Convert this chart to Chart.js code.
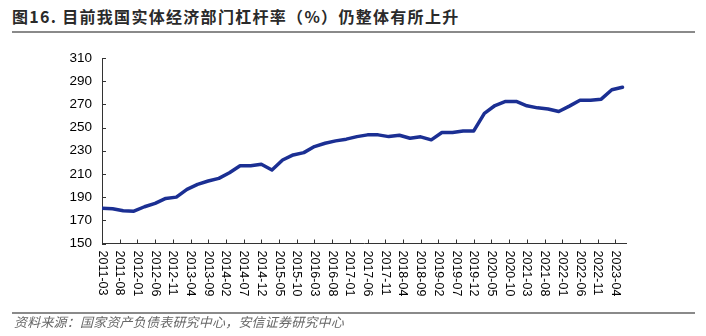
<!DOCTYPE html>
<html>
<head>
<meta charset="utf-8">
<script src="https://cdn.jsdelivr.net/npm/chart.js@4.4.1/dist/chart.umd.min.js"></script>
<style>
  body { margin: 0; background: #fff; width: 706px; height: 336px; overflow: hidden; position: relative; }
  #title { position: absolute; left: 12px; top: 6px; font: bold 16px "Noto Sans CJK SC", sans-serif; color: #2a2a2a; letter-spacing: 1.3px; line-height: 20px; white-space: nowrap; }
  .rule { position: absolute; left: 12px; width: 683px; height: 2px; background: #8a8a8a; }
  #src { position: absolute; left: 14px; top: 314px; font: italic 13px "Noto Sans CJK SC", sans-serif; color: #666; letter-spacing: 0.2px; line-height: 16px; white-space: nowrap; }
  #chart { position: absolute; left: 0; top: 0; }
</style>
</head>
<body>
<div id="title">图16. 目前我国实体经济部门杠杆率（%）仍整体有所上升</div>
<div class="rule" style="top:31px"></div>
<canvas id="chart" width="706" height="336"></canvas>
<div class="rule" style="top:312px"></div>
<div id="src">资料来源：国家资产负债表研究中心，安信证券研究中心</div>

<script>
// quarterly leverage ratio (%)
const quarterDates = [
  '2011-03', '2011-06', '2011-09', '2011-12',
  '2012-03', '2012-06', '2012-09', '2012-12',
  '2013-03', '2013-06', '2013-09', '2013-12',
  '2014-03', '2014-06', '2014-09', '2014-12',
  '2015-03', '2015-06', '2015-09', '2015-12',
  '2016-03', '2016-06', '2016-09', '2016-12',
  '2017-03', '2017-06', '2017-09', '2017-12',
  '2018-03', '2018-06', '2018-09', '2018-12',
  '2019-03', '2019-06', '2019-09', '2019-12',
  '2020-03', '2020-06', '2020-09', '2020-12',
  '2021-03', '2021-06', '2021-09', '2021-12',
  '2022-03', '2022-06', '2022-09', '2022-12',
  '2023-03', '2023-06'
];

const leverage = [
  180.3, 180.0, 178.2, 177.9,
  181.7, 184.6, 188.9, 190.0,
  196.7, 201.0, 203.9, 206.2,
  211.0, 217.0, 217.0, 218.3,
  213.4, 222.0, 226.4, 228.4,
  233.6, 236.5, 238.5, 240.0,
  242.2, 243.7, 243.7, 242.2,
  243.4, 240.8, 242.0, 239.4,
  245.7, 245.7, 247.1, 247.1,
  262.3, 269.0, 272.5, 272.5,
  268.8, 267.0, 266.0, 263.8,
  268.5, 273.5, 273.5, 274.5,
  282.6, 284.8
];

// x-axis labels, every 5 months
const tickLabels = [
  '2011-03', '2011-08', '2012-01', '2012-06', '2012-11',
  '2013-04', '2013-09', '2014-02', '2014-07', '2014-12',
  '2015-05', '2015-10', '2016-03', '2016-08', '2017-01',
  '2017-06', '2017-11', '2018-04', '2018-09', '2019-02',
  '2019-07', '2019-12', '2020-05', '2020-10', '2021-03',
  '2021-08', '2022-01', '2022-06', '2022-11', '2023-04'
];

// months since 2011-03
function monthIndex(s) {
  const [yy, mm] = s.split('-').map(Number);
  return (yy - 2011) * 12 + (mm - 3);
}

const points = quarterDates.map((d, i) => ({ x: monthIndex(d), y: leverage[i] }));

/* axis decorations: inward tick marks + vertical date labels */
const axisDecor = {
  id: 'axisDecor',
  afterDraw(chart) {
    const { ctx, chartArea } = chart;
    const x = chart.scales.x;
    const y = chart.scales.y;
    ctx.save();
    ctx.strokeStyle = '#333';
    ctx.lineWidth = 1;
    ctx.beginPath();
    y.ticks.forEach(t => {
      const py = Math.round(y.getPixelForValue(t.value)) + 0.5;
      ctx.moveTo(chartArea.left, py);
      ctx.lineTo(chartArea.left + 4, py);
    });
    tickLabels.forEach(l => {
      const px = Math.round(x.getPixelForValue(monthIndex(l))) + 0.5;
      ctx.moveTo(px, chartArea.bottom);
      ctx.lineTo(px, chartArea.bottom - 4);
    });
    ctx.stroke();

    ctx.fillStyle = '#000';
    ctx.font = '12.5px "Liberation Sans", Arial, sans-serif';
    ctx.textAlign = 'left';
    ctx.textBaseline = 'middle';
    tickLabels.forEach(l => {
      const px = x.getPixelForValue(monthIndex(l));
      ctx.save();
      ctx.translate(px, chartArea.bottom + 7);
      ctx.rotate(Math.PI / 2);
      ctx.fillText(l, 0, 0);
      ctx.restore();
    });
    ctx.restore();
  }
};

new Chart(document.getElementById('chart'), {
  type: 'line',
  data: {
    datasets: [{
      label: '实体经济部门杠杆率',
      data: points,
      borderColor: '#1b2f93',
      borderWidth: 3.5,
      pointRadius: 0,
      tension: 0,
      borderJoinStyle: 'round',
      borderCapStyle: 'round'
    }]
  },
  options: {
    responsive: false,
    animation: false,
    devicePixelRatio: 1,
    layout: { padding: { top: 58, right: 80, left: 0, bottom: 0 } },
    plugins: { legend: { display: false }, tooltip: { enabled: false } },
    scales: {
      x: {
        type: 'linear',
        min: 0,
        max: 148,
        grid: { display: false, drawTicks: false },
        border: { display: true, color: '#333', width: 1 },
        ticks: { display: false },
        afterFit: s => { s.height = 92.5; }
      },
      y: {
        min: 150,
        max: 310,
        grid: { display: false, drawTicks: false },
        border: { display: true, color: '#333', width: 1 },
        ticks: {
          stepSize: 20,
          padding: 10,
          color: '#000',
          font: { family: '"Liberation Sans", Arial, sans-serif', size: 13.5 }
        },
        afterFit: s => { s.width = 102; }
      }
    }
  },
  plugins: [axisDecor]
});
</script>
</body>
</html>
